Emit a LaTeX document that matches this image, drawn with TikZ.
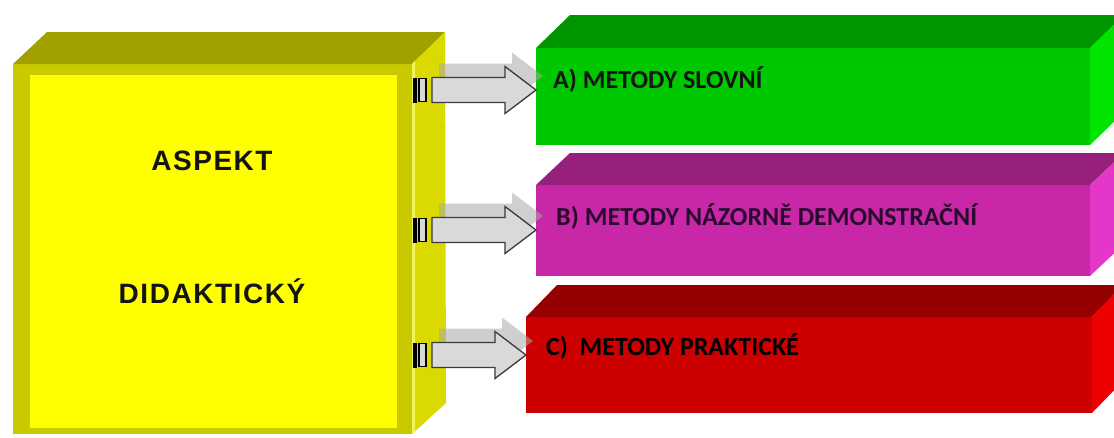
\documentclass[tikz,border=0pt]{standalone}
\usepackage{fontspec}
\setmainfont{Liberation Sans}
\newfontfamily\calfont{Carlito}
\newfontfamily\widefont[LetterSpace=5.5]{Liberation Sans}
\usetikzlibrary{calc}
\definecolor{yelFrame}{HTML}{C9C900}
\definecolor{yelIn}{HTML}{FFFF00}
\definecolor{yelTop}{HTML}{A0A000}
\definecolor{yelSide}{HTML}{DADA00}
\definecolor{yelStripe}{HTML}{F2F25A}
\definecolor{grFront}{HTML}{00C800}
\definecolor{grTop}{HTML}{009600}
\definecolor{grSide}{HTML}{00E400}
\definecolor{mgFront}{HTML}{C828A8}
\definecolor{mgTop}{HTML}{96207A}
\definecolor{mgSide}{HTML}{E436C8}
\definecolor{rdFront}{HTML}{CC0000}
\definecolor{rdTop}{HTML}{960000}
\definecolor{rdSide}{HTML}{EE0000}
\definecolor{arrFill}{HTML}{D9D9D9}
\definecolor{arrLine}{HTML}{3A3A3A}
\definecolor{shadowGray}{HTML}{A8A8A8}
\definecolor{txtDark}{HTML}{141414}
\definecolor{txtPurple}{HTML}{2A0A2E}
% block arrow outline: #1 start, #2 tip, #3 offset
\newcommand\arrowpath[3]{($(#1)+(#3)+(0,-12.5)$) -- ($(#2)+(#3)+(-31,-12.5)$) -- ($(#2)+(#3)+(-31,-23.5)$) -- ($(#2)+(#3)$) -- ($(#2)+(#3)+(-31,23.5)$) -- ($(#2)+(#3)+(-31,12.5)$) -- ($(#1)+(#3)+(0,12.5)$) -- cycle}
\tikzset{
  face/.style={draw=none, inner sep=0pt, outer sep=0pt, anchor=north west},
  bigtext/.style={font=\widefont\fontsize{28}{30}\selectfont\bfseries, text=txtDark, inner sep=0pt, anchor=base},
  boxtext/.style={font=\calfont\fontsize{26}{28}\selectfont\bfseries, inner sep=0pt, anchor=base west},
  arrowbody/.style={fill=arrFill, draw=arrLine, line width=1.3pt, line join=miter},
  arrowshadow/.style={fill=shadowGray, opacity=0.55},
  plugbar/.style={fill=black},
  plugbox/.style={fill=arrFill, draw=black, line width=1.2pt},
}
\begin{document}
\begin{tikzpicture}[x=1pt,y=-1pt]
\useasboundingbox (0,0) rectangle (1114,437);
\fill[white] (0,0) rectangle (1114,437);
\clip (0,0) rectangle (1114,437);

% ---------- yellow 3D block ----------
\node[face, fill=yelFrame, minimum width=399pt, minimum height=370pt] (yel) at (13,64) {};
\fill[yelTop] (yel.north west) -- ++(34,-32) -- ($(yel.north east)+(33,-32)$) -- (yel.north east) -- cycle;
\fill[yelSide] (yel.north east) -- ++(33,-32) -- ($(yel.south east)+(34,-31)$) -- (yel.south east) -- cycle;
\fill[yelStripe] (yel.north east) -- ++(3,-3) -- ($(yel.south east)+(3,-3)$) -- (yel.south east) -- cycle;
\node[face, fill=yelIn, minimum width=367pt, minimum height=353pt] (yelin) at (30,75) {};
\node[bigtext] (asp) at (212,170) {ASPEKT};
\node[bigtext] (did) at (212,303) {DIDAKTICKÝ};

% ---------- coloured 3D blocks ----------
\node[face, fill=grFront, minimum width=554pt, minimum height=97pt] (boxA) at (536,48) {};
\fill[grTop] (boxA.north west) -- ++(34,-33) -- ($(boxA.north east)+(34,-33)$) -- (boxA.north east) -- cycle;
\fill[grSide] (boxA.north east) -- ++(34,-33) -- ($(boxA.south east)+(34,-33)$) -- (boxA.south east) -- cycle;

\node[face, fill=mgFront, minimum width=554pt, minimum height=91pt] (boxB) at (536,185) {};
\fill[mgTop] (boxB.north west) -- ++(34,-32) -- ($(boxB.north east)+(34,-32)$) -- (boxB.north east) -- cycle;
\fill[mgSide] (boxB.north east) -- ++(34,-32) -- ($(boxB.south east)+(34,-32)$) -- (boxB.south east) -- cycle;

\node[face, fill=rdFront, minimum width=566pt, minimum height=96pt] (boxC) at (526,317) {};
\fill[rdTop] (boxC.north west) -- ++(31,-32) -- ($(boxC.north east)+(31,-32)$) -- (boxC.north east) -- cycle;
\fill[rdSide] (boxC.north east) -- ++(31,-32) -- ($(boxC.south east)+(31,-32)$) -- (boxC.south east) -- cycle;

% ---------- connectors ----------
\coordinate (pA) at (413,90);
\coordinate (pB) at (413,230);
\coordinate (pC) at (413,355);
\coordinate (sA) at (432,90);
\coordinate (sB) at (432,230);
\coordinate (sC) at (432,355);
\coordinate (eA) at (boxA.west |- sA);
\coordinate (eB) at (boxB.west |- sB);
\coordinate (eC) at (boxC.west |- sC);

\foreach \s/\e in {sA/eA, sB/eB, sC/eC}{
  \fill[arrowshadow] \arrowpath{\s}{\e}{7,-14};
}
\foreach \p/\s/\e in {pA/sA/eA, pB/sB/eB, pC/sC/eC}{
  \fill[plugbar] ($(\p)+(0,-12.5)$) rectangle ($(\p)+(3.5,12.5)$);
  \draw[plugbox] ($(\p)+(6,-11.5)$) rectangle ($(\p)+(13,11.5)$);
  \draw[arrowbody] \arrowpath{\s}{\e}{0,0};
}

\node[boxtext, text=txtDark] (tA) at (553,88.5) {A) METODY SLOVNÍ};
\node[boxtext, text=txtPurple] (tB) at (556,225.5) {B) METODY NÁZORNĚ DEMONSTRAČNÍ};
\node[boxtext, text=black] (tC) at (546,355.5) {C)\hspace{0.45em}METODY PRAKTICKÉ};
\end{tikzpicture}
\end{document}
